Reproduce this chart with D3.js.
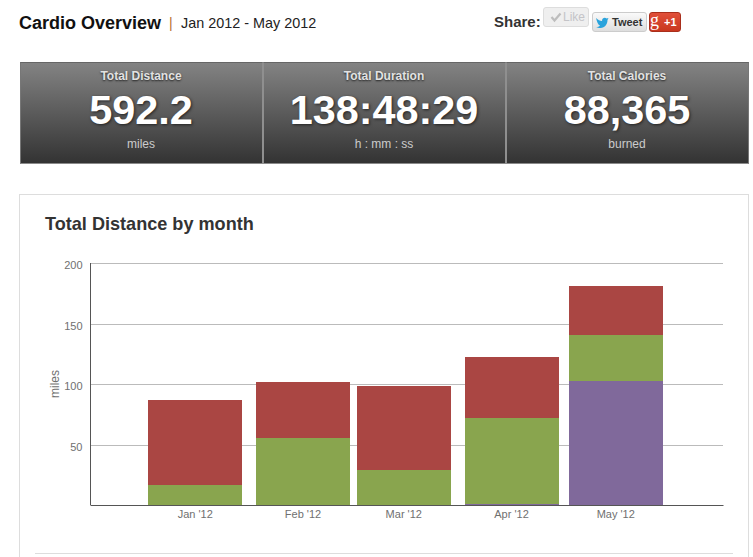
<!DOCTYPE html>
<html>
<head>
<meta charset="utf-8">
<script src="https://cdn.jsdelivr.net/npm/d3@7"></script>
<style>
    html, body { margin: 0; padding: 0; background: #fff; overflow: hidden; }
    body { width: 753px; height: 557px; position: relative; font-family: "Liberation Sans", Arial, sans-serif; }
    .abs { position: absolute; white-space: nowrap; }
    .tile { position: absolute; top: 62px; text-align: center;
            background: linear-gradient(#838383, #333333); border-top: 1px solid #666; border-bottom: 1px solid #8a8a8a; }
    .tile .t { position: absolute; left: -1px; right: 0; top: 6px; font-size: 12px; font-weight: bold; color: #e2e2e2; text-shadow: 0 1px 2px #222; }
    .tile .v { position: absolute; left: -1px; right: 0; top: 22px; font-size: 41.4px; line-height: 50px; font-weight: bold; color: #fff; text-shadow: 1px 1px 3px #222; }
    .tile .u { position: absolute; left: -1px; right: 0; top: 74px; font-size: 12px; color: #ccc; }
    .btn { position: absolute; box-sizing: border-box; border-radius: 3px; font-size: 11px; font-weight: bold; line-height: 18px; }
</style>
</head>
<body>
<script>

    var months = ["2012-01-01", "2012-02-01", "2012-03-01", "2012-04-01", "2012-05-01"];
    var monthLabels = ["Jan '12", "Feb '12", "Mar '12", "Apr '12", "May '12"];
    var purple = [0, 0, 0, 1, 102.7];
    var green = [17, 55.5, 29, 71, 38.1];
    var red = [70.2, 46.7, 69.6, 50.7, 40.7];
    var yTicks = [50, 100, 150, 200];

    var tileTitles = ["Total Distance", "Total Duration", "Total Calories"];
    var tileValues = ["592.2", "138:48:29", "88,365"];
    var tileUnits = ["miles", "h : mm : ss", "burned"];

    var body = d3.select("body");

    // page header
    body.append("div").attr("class", "abs")
        .style("left", "19px").style("top", "13px")
        .style("font-size", "18px").style("font-weight", "bold").style("color", "#111")
        .text("Cardio Overview");
    body.append("div").attr("class", "abs")
        .style("left", "169px").style("top", "15px")
        .style("font-size", "14px").style("color", "#b5702e")
        .text("|");
    body.append("div").attr("class", "abs")
        .style("left", "181px").style("top", "15px")
        .style("font-size", "14.4px").style("color", "#222")
        .text("Jan 2012 - May 2012");

    // share buttons
    body.append("div").attr("class", "abs")
        .style("left", "494px").style("top", "13px")
        .style("font-size", "15px").style("font-weight", "bold").style("color", "#333")
        .text("Share:");
    body.append("div").attr("class", "btn")
        .style("left", "543px").style("top", "7px").style("width", "46px").style("height", "20px")
        .style("background", "#efefef").style("border", "1px solid #ddd").style("color", "#c4c4c8")
        .style("font-weight", "normal").style("font-size", "12px").style("padding-left", "19px")
        .text("Like");
    body.append("svg").attr("class", "abs")
        .style("left", "550px").style("top", "11px")
        .attr("width", 12).attr("height", 12)
        .append("path")
        .attr("d", "M1.5 6L4.5 9.5L10.5 2.5")
        .attr("fill", "none").attr("stroke", "#bdbdbd").attr("stroke-width", 2.2);
    body.append("div").attr("class", "btn")
        .style("left", "592px").style("top", "12px").style("width", "55px").style("height", "20px")
        .style("background", "linear-gradient(#fafafa, #dedede)").style("border", "1px solid #ccc").style("color", "#333")
        .style("padding-left", "19px")
        .text("Tweet");
    body.append("svg").attr("class", "abs")
        .style("left", "595px").style("top", "15px")
        .attr("width", 15).attr("height", 15)
        .append("path")
        .attr("d", "M1 3C3 5 5 6 7 6C7 3 10 2 11.5 3.5L13.5 3L12.5 5C12.5 9 10 13 5.5 13C3.5 13 2 12.5 1 12C3 12 4 11.5 5 10.5C3 10 2 7 1 3Z")
        .attr("fill", "#2aa3dc");
    body.append("div").attr("class", "btn")
        .style("left", "649px").style("top", "12px").style("width", "32px").style("height", "20px")
        .style("background", "linear-gradient(#e0503a, #c9371f)").style("border", "1px solid #a92f1c").style("color", "#fff")
        .style("padding-left", "14px")
        .text("+1");
    body.append("div").attr("class", "abs")
        .style("left", "650px").style("top", "10px")
        .style("font-family", "Liberation Serif").style("font-size", "18px").style("color", "#fff")
        .text("g");

    // summary tiles
    var tileX = d3.scaleBand().domain(d3.range(3)).range([20, 749]);
    var tiles = body.selectAll(".tile")
        .data(tileTitles)
        .enter()
        .append("div")
        .attr("class", "tile")
        .style("left", (d, i) => tileX(i) + "px")
        .style("width", tileX.bandwidth() + "px")
        .style("box-sizing", "border-box")
        .style("height", "102px")
        .style("border-left", (d, i) => i == 0 ? "1px solid #777" : "1px solid #8f8f8f")
        .style("border-right", (d, i) => i == 2 ? "1px solid #777" : "1px solid #8f8f8f");
    tiles.append("div").attr("class", "t").text((d) => d);
    tiles.append("div").attr("class", "v").text((d, i) => tileValues[i]);
    tiles.append("div").attr("class", "u").text((d, i) => tileUnits[i]);

    // chart
    var svg = body.append("svg")
        .attr("class", "abs")
        .style("left", 0).style("top", 0)
        .attr("width", 753)
        .attr("height", 557);

    svg.append("rect")
        .attr("x", 19.5).attr("y", 194.5)
        .attr("width", 729).attr("height", 400)
        .attr("fill", "none").attr("stroke", "#ddd");
    svg.append("line")
        .attr("x1", 35).attr("x2", 733).attr("y1", 553.5).attr("y2", 553.5)
        .attr("stroke", "#ddd");
    svg.append("text")
        .attr("x", 45).attr("y", 230)
        .attr("font-size", 18.1).attr("font-weight", "bold").attr("fill", "#333")
        .text("Total Distance by month");

    var parseDay = d3.utcParse("%Y-%m-%d");
    var x = d3.scaleUtc()
        .domain([parseDay("2011-12-02"), parseDay("2012-06-01")])
        .range([91, 723.5]);
    var y = d3.scaleLinear().domain([0, 200]).range([505.5, 263.5]);
    var barWidth = 94;

    var yAxis = d3.axisLeft(y).tickValues(yTicks).tickSize(-(723 - 90.5)).tickPadding(8).offset(0);
    var gy = svg.append("g").attr("transform", "translate(90.5,0)").call(yAxis);
    gy.select(".domain").remove();
    gy.selectAll(".tick").attr("transform", (d) => "translate(0," + (Math.floor(y(d)) + 0.5) + ")");
    gy.selectAll("line").attr("stroke", "#bbb");
    gy.selectAll("text").attr("font-size", 11).attr("font-family", "Liberation Sans").attr("fill", "#707070").attr("dy", "0.5em");

    var stacked = d3.stack().keys(["purple", "green", "red"])(
        months.map((m, i) => ({ date: parseDay(m), purple: purple[i], green: green[i], red: red[i] }))
    );
    var colors = { purple: "#80699b", green: "#89a54e", red: "#aa4643" };

    svg.selectAll("g.series")
        .data(stacked)
        .enter()
        .append("g")
        .attr("class", "series")
        .attr("fill", (d) => colors[d.key])
        .selectAll("rect")
        .data((d) => d)
        .enter()
        .append("rect")
        .attr("shape-rendering", "crispEdges")
        .attr("x", (d) => x(d.data.date) - barWidth / 2)
        .attr("width", barWidth)
        .attr("y", (d) => y(d[1]))
        .attr("height", (d) => y(d[0]) - y(d[1]));

    // axis lines go over the bars
    svg.append("line")
        .attr("x1", 90.5).attr("x2", 90.5).attr("y1", 263).attr("y2", 505.5)
        .attr("stroke", "#555");

    var xAxis = d3.axisBottom(x)
        .tickValues(months.map(parseDay))
        .tickFormat((d, i) => monthLabels[i])
        .tickSize(0)
        .tickPadding(5)
        .offset(0);
    var gx = svg.append("g").attr("transform", "translate(0,505.5)").call(xAxis);
    gx.select(".domain").attr("stroke", "#555");
    gx.selectAll("text").attr("font-size", 11).attr("font-family", "Liberation Sans").attr("fill", "#707070");

    svg.append("text")
        .attr("transform", "translate(59,384) rotate(-90)")
        .attr("text-anchor", "middle")
        .attr("font-size", 12).attr("fill", "#707070")
        .text("miles");

</script>
</body>
</html>
